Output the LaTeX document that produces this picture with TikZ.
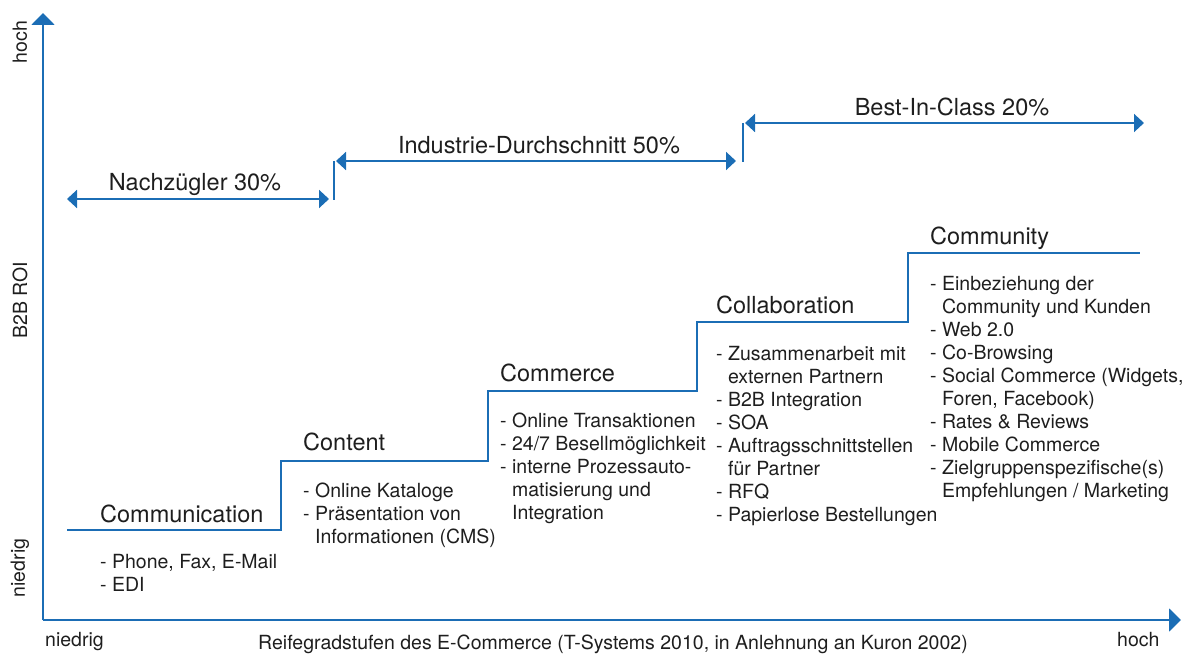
\documentclass[tikz,border=0pt]{standalone}
\usepackage{fontspec}
\setmainfont{TeX Gyre Heros}
\usetikzlibrary{arrows.meta}
\definecolor{stairblue}{RGB}{27,109,181}
\definecolor{ink}{RGB}{30,30,30}
\newcommand\hangdash{\hphantom{- }}
\begin{document}
\begin{tikzpicture}[x=1pt,y=-1pt,
  axis/.style={draw=stairblue,line width=2pt,-{Triangle[length=12pt,width=23pt]}},
  stair/.style={draw=stairblue,line width=2pt},
  span/.style={draw=stairblue,line width=2pt,{Triangle[length=10pt,width=18pt]}-{Triangle[length=10pt,width=18pt]}},
  tick/.style={draw=stairblue,line width=2pt},
  heading/.style={anchor=base west,inner sep=0pt,text=ink,font=\fontsize{23.5}{28}\selectfont},
  spanlabel/.style={inner sep=0pt,text=ink,font=\fontsize{23.5}{28}\selectfont},
  itemlist/.style={anchor=north west,inner sep=0pt,align=left,text=ink,font=\fontsize{19.5}{23}\selectfont},
  axislabel/.style={inner sep=0pt,text=ink,font=\fontsize{19.5}{23}\selectfont}]
\useasboundingbox (0,0) rectangle (1189,655);

% axes
\coordinate (origin) at (43,620);
\coordinate (ytip) at (43,13);
\coordinate (xtip) at (1181,620);
\draw[axis] (origin) -- (ytip);
\draw[axis] (origin) -- (xtip);

\node[axislabel,rotate=90] (yhigh) at (20,42) {hoch};
\node[axislabel,rotate=90] (yname) at (20,300) {B2B ROI};
\node[axislabel,rotate=90] (ylow) at (20,568) {niedrig};
\node[axislabel,anchor=base west] (xlow) at (45,646) {niedrig};
\node[axislabel,anchor=base] (xname) at (613,649) {Reifegradstufen des E-Commerce (T-Systems 2010, in Anlehnung an Kuron 2002)};
\node[axislabel,anchor=base west] (xhigh) at (1117,646) {hoch};

% staircase of maturity levels
\coordinate (s0) at (67,530);
\coordinate (s1) at (281,530);
\coordinate (s2) at (281,461);
\coordinate (s3) at (488,461);
\coordinate (s4) at (488,391);
\coordinate (s5) at (697,391);
\coordinate (s6) at (697,322);
\coordinate (s7) at (908,322);
\coordinate (s8) at (908,253);
\coordinate (s9) at (1140,253);
\draw[stair,line join=miter] (s0) -- (s1) -- (s2) -- (s3) -- (s4) -- (s5) -- (s6) -- (s7) -- (s8) -- (s9);

% level headings
\node[heading] (h1) at (100,522) {Communication};
\node[heading] (h2) at (303,450) {Content};
\node[heading] (h3) at (500,381) {Commerce};
\node[heading] (h4) at (716,313) {Collaboration};
\node[heading] (h5) at (930,245) {Community};

% level contents
\node[itemlist] (l1) at (100,554) {- Phone, Fax, E-Mail\\- EDI};
\node[itemlist] (l2) at (303,483) {- Online Kataloge\\- Präsentation von\\\hangdash Informationen (CMS)};
\node[itemlist] (l3) at (500,413) {- Online Transaktionen\\- 24/7 Besellmöglichkeit\\- interne Prozessauto-\\\hangdash matisierung und\\\hangdash Integration};
\node[itemlist] (l4) at (716,346) {- Zusammenarbeit mit\\\hangdash externen Partnern\\- B2B Integration\\- SOA\\- Auftragsschnittstellen\\\hangdash für Partner\\- RFQ\\- Papierlose Bestellungen};
\node[itemlist] (l5) at (930,276) {- Einbeziehung der\\\hangdash Community und Kunden\\- Web 2.0\\- Co-Browsing\\- Social Commerce (Widgets,\\\hangdash Foren, Facebook)\\- Rates \& Reviews\\- Mobile Commerce\\- Zielgruppenspezifische(s)\\\hangdash Empfehlungen / Marketing};

% adoption groups
\coordinate (g1a) at (67,199);
\coordinate (g1b) at (329,199);
\coordinate (t1a) at (334,161);
\coordinate (t1b) at (334,200);
\coordinate (g2a) at (336,161);
\coordinate (g2b) at (736,161);
\coordinate (t2a) at (743,123);
\coordinate (t2b) at (743,162);
\coordinate (g3a) at (745,123);
\coordinate (g3b) at (1144,123);
\draw[span] (g1a) -- (g1b);
\draw[tick] (t1a) -- (t1b);
\draw[span] (g2a) -- (g2b);
\draw[tick] (t2a) -- (t2b);
\draw[span] (g3a) -- (g3b);
\node[spanlabel] (n1) at (195,184) {Nachzügler 30\%};
\node[spanlabel] (n2) at (539,145) {Industrie-Durchschnitt 50\%};
\node[spanlabel] (n3) at (952,107) {Best-In-Class 20\%};
\end{tikzpicture}
\end{document}
